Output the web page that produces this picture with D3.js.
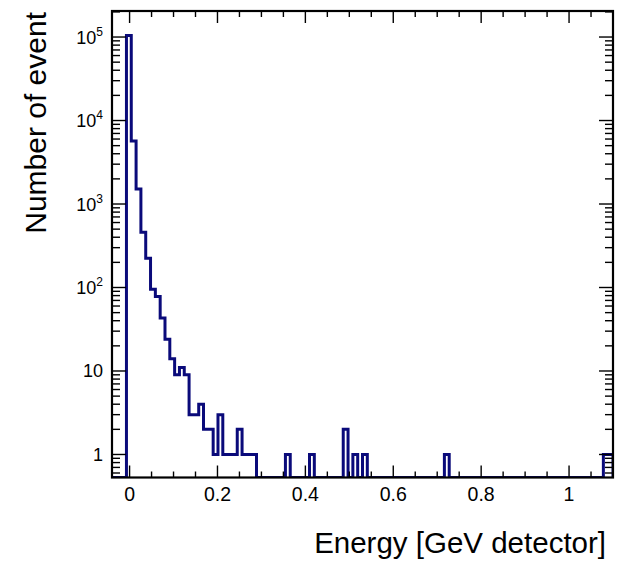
<!DOCTYPE html>
<html>
<head>
<meta charset="utf-8">
<script src="https://cdn.jsdelivr.net/npm/d3@7"></script>
<style>
  html, body { margin: 0; padding: 0; background: #fff; }
  svg { display: block; }
  text { font-family: "Liberation Sans", Arial, Helvetica, sans-serif; fill: #000; }
</style>
</head>
<body>
<svg id="chart" width="626" height="564"></svg>
<script>
// ---- data ----
const binLow = -0.04;
const binHigh = 1.1;
const counts = [
  0, 0, 0, 104000, 5680, 1510, 458, 224, 95, 78,
  43, 24, 14, 9, 11, 9, 3, 3, 4, 2,
  2, 1, 3, 1, 1, 1, 2, 1, 1, 1,
  0, 0, 0, 0, 0, 0, 1, 0, 0, 0,
  0, 1, 0, 0, 0, 0, 0, 0, 2, 0,
  1, 0, 1, 0, 0, 0, 0, 0, 0, 0,
  0, 0, 0, 0, 0, 0, 0, 0, 0, 1,
  0, 0, 0, 0, 0, 0, 0, 0, 0, 0,
  0, 0, 0, 0, 0, 0, 0, 0, 0, 0,
  0, 0, 0, 0, 0, 0, 0, 0, 0, 0,
  0, 0, 1, 1
];
const xTickValues = [0, 0.2, 0.4, 0.6, 0.8, 1];
const xTickLabels = ["0", "0.2", "0.4", "0.6", "0.8", "1"];
const yTickValues = [1, 10, 100, 1000, 10000, 100000];
const yTickBase = ["1", "10", "10", "10", "10", "10"];
const yTickExp = ["", "", "2", "3", "4", "5"];
const xTitle = "Energy [GeV detector]";
const yTitle = "Number of event";

// ---- layout ----
const frame = { left: 112, right: 613, top: 11, bottom: 477.5 };
const svg = d3.select("#chart");

const x = d3.scaleLinear().domain([binLow, binHigh]).range([frame.left, frame.right]);
const y = d3.scaleLog().domain([0.53, 2.05e5]).range([frame.bottom, frame.top]);

const nBins = counts.length;
const bw = (binHigh - binLow) / nBins;

// histogram outline
svg.append("clipPath").attr("id", "fclip")
  .append("rect").attr("x", frame.left).attr("y", frame.top)
  .attr("width", frame.right - frame.left).attr("height", frame.bottom - frame.top);

function yy(c) { return c > 0 ? y(c) : frame.bottom; }
let d = `M${x(binLow)},${frame.bottom}`;
counts.forEach((c, i) => {
  const x0 = x(binLow + i * bw), x1 = x(binLow + (i + 1) * bw);
  d += `L${x0},${yy(c)}L${x1},${yy(c)}`;
});
d += `L${x(binHigh)},${frame.bottom}`;
svg.append("path").attr("d", d)
  .attr("fill", "none").attr("stroke", "#0a0a7a").attr("stroke-width", 3)
  .attr("stroke-linejoin", "miter")
  .attr("clip-path", "url(#fclip)");

// ticks
const tickG = svg.append("g").attr("stroke", "#000").attr("stroke-width", 1.4);
const xMinor = d3.range(0, 23).map(k => k * 0.05).filter(v => v <= 1.1 + 1e-9);
xMinor.forEach(v => {
  const major = Math.abs(v * 5 - Math.round(v * 5)) < 1e-6;
  const len = major ? 12 : 6;
  const px = x(v);
  tickG.append("line").attr("x1", px).attr("x2", px).attr("y1", frame.bottom).attr("y2", frame.bottom - len);
  tickG.append("line").attr("x1", px).attr("x2", px).attr("y1", frame.top).attr("y2", frame.top + len);
});
const yMinorVals = [];
for (let e = -1; e <= 5; e++) {
  for (let m = 1; m <= 9; m++) {
    const v = m * Math.pow(10, e);
    if (v >= 0.53 && v <= 2.05e5) yMinorVals.push({ v, major: m === 1 });
  }
}
yMinorVals.forEach(t => {
  const len = t.major ? 14 : 8;
  const py = y(t.v);
  tickG.append("line").attr("x1", frame.left).attr("x2", frame.left + len).attr("y1", py).attr("y2", py);
  tickG.append("line").attr("x1", frame.right).attr("x2", frame.right - len).attr("y1", py).attr("y2", py);
});

// frame
svg.append("rect").attr("x", frame.left).attr("y", frame.top)
  .attr("width", frame.right - frame.left).attr("height", frame.bottom - frame.top)
  .attr("fill", "none").attr("stroke", "#000").attr("stroke-width", 2.2);

// x tick labels
xTickValues.forEach((v, i) => {
  svg.append("text").attr("x", x(v)).attr("y", 501)
    .attr("text-anchor", "middle").attr("font-size", 19.5).text(xTickLabels[i]);
});
// y tick labels
yTickValues.forEach((v, i) => {
  const t = svg.append("text").attr("x", 103).attr("y", y(v) + 6.5)
    .attr("text-anchor", "end").attr("font-size", 18);
  t.append("tspan").text(yTickBase[i]);
  if (yTickExp[i]) t.append("tspan").attr("font-size", 12).attr("dy", -8).text(yTickExp[i]);
});

// axis titles
svg.append("text").attr("x", 606).attr("y", 553).attr("text-anchor", "end")
  .attr("font-size", 29.5).text(xTitle);
svg.append("text").attr("transform", "translate(46,12) rotate(-90)")
  .attr("text-anchor", "end").attr("font-size", 30).text(yTitle);
</script>
</body>
</html>
